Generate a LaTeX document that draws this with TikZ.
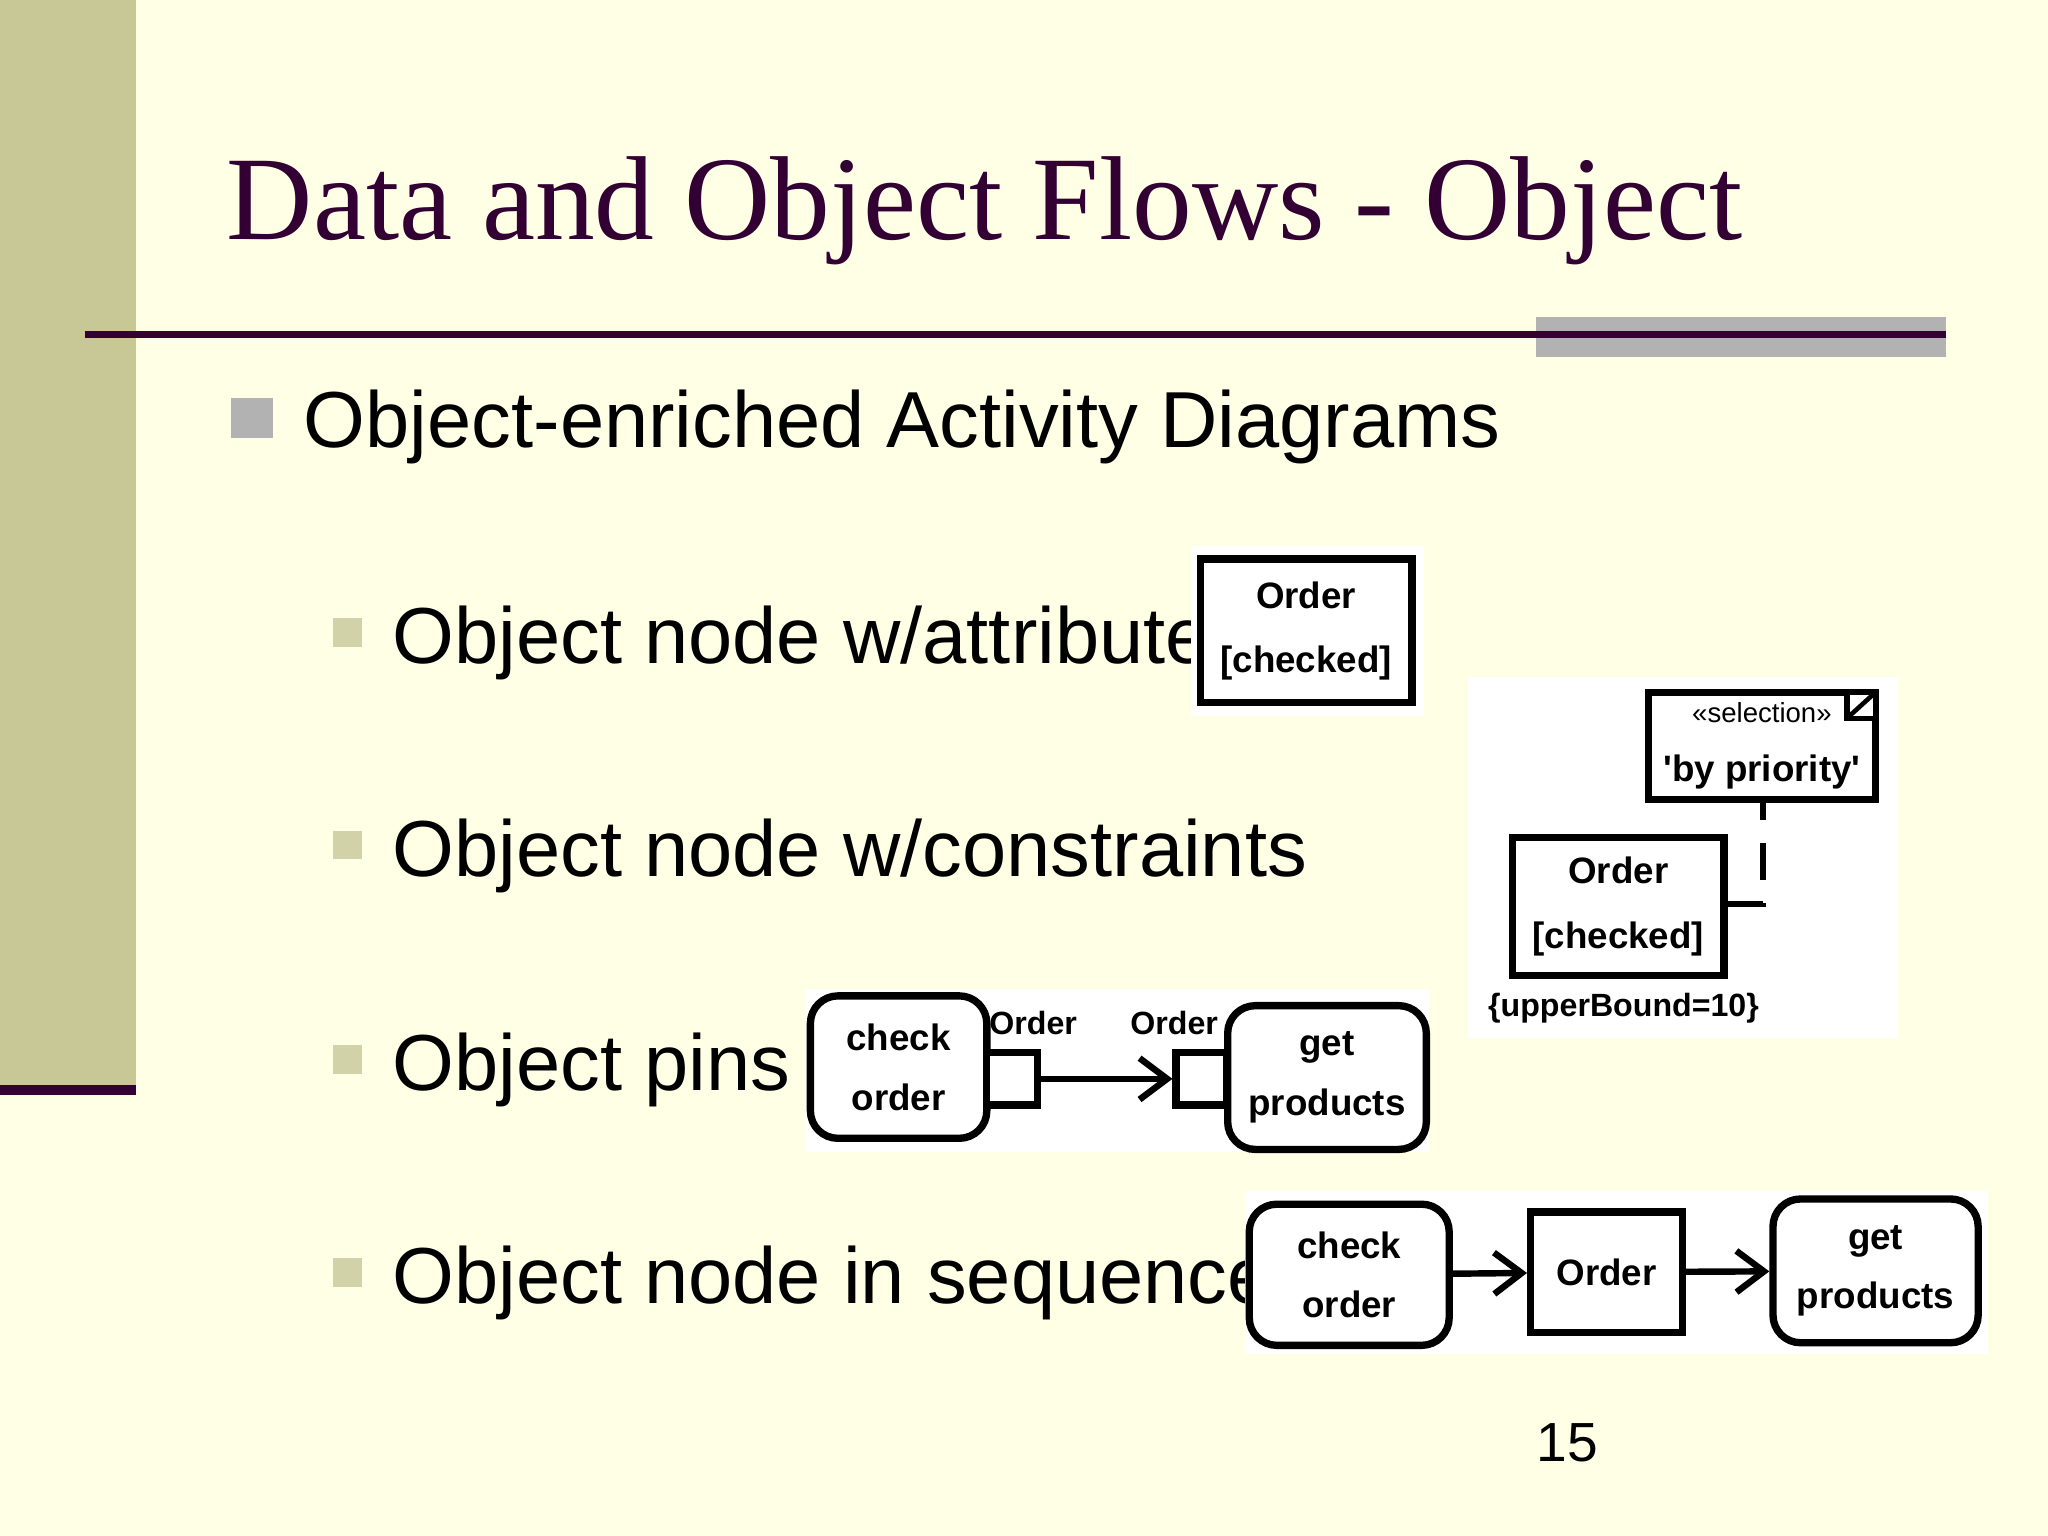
\documentclass[tikz,border=0pt]{standalone}
\usepackage{fontspec}
\setmainfont{Liberation Serif}
\newfontfamily\sans{Liberation Sans}
\usetikzlibrary{arrows.meta}
\definecolor{bg}{HTML}{FFFFE6}
\definecolor{bar}{HTML}{C8C896}
\definecolor{dpur}{HTML}{330033}
\definecolor{sub}{HTML}{D2D2A8}
\begin{document}
\begin{tikzpicture}[x=0.01cm,y=-0.01cm,
  box/.style={draw,line width=1.6pt,fill=white,inner sep=0pt,font=\sans\bfseries\fontsize{8}{10}\selectfont,align=center},
  rbox/.style={box,rounded corners=6pt},
  arr/.style={line width=1.4pt,-{Straight Barb[length=6pt,width=9pt]}},
  item/.style={anchor=base west,font=\sans\fontsize{17.3}{20}\selectfont},
  lab/.style={font=\sans\bfseries\fontsize{7}{8}\selectfont,inner sep=1pt}]
\fill[bg] (0,0) rectangle (1568,1176);
\useasboundingbox (0,0) rectangle (1568,1176);
\fill[bar] (0,0) rectangle (104,833);
\fill[dpur] (0,831) rectangle (104,838);
\fill[black!30] (1176,243) rectangle (1490,273);
\draw[dpur,line width=1.5pt] (65,256) -- (1490,256);
\node[anchor=base west,text=dpur,font=\fontsize{26}{30}\selectfont,inner sep=0] (title) at (173,183) {Data and Object Flows - Object};
\fill[black!30] (177,305) rectangle (209,335);
\node[item,inner sep=0] (b1) at (232,343) {Object-enriched Activity Diagrams};
\foreach \y/\t/\n in {508/Object node w\slash attribute/s1,671/Object node w\slash constraints/s2,835/Object pins/s3,998/Object node in sequence/s4}{
  \fill[sub] (255,\y-35) rectangle (277,\y-13);
  \node[item,inner sep=0] (\n) at (300,\y) {\t};
}
\node[font=\sans\fontsize{12}{14}\selectfont] (pg) at (1200,1105) {15};
% diagram 1
\fill[white] (912,418) rectangle (1090,548);
\node[box,minimum width=1.62cm,minimum height=1.1cm] (o1) at (1000,483) {Order\\[4pt][checked]};
% diagram 2
\fill[white] (1124,518) rectangle (1453,795);
\node[box,minimum width=1.74cm,minimum height=0.82cm] (sel) at (1349,571) {\fontsize{6}{7}\selectfont\mdseries«selection»\\[3pt]'by priority'};
\draw[line width=1.2pt,fill=white] (1414,530) rectangle (1436,550);
\draw[line width=1pt] (1414,550) -- (1436,530);
\node[box,minimum width=1.62cm,minimum height=1.06cm] (o2) at (1239,694) {Order\\[4pt][checked]};
\coordinate (c2) at (1350,692);
\draw[line width=1.4pt,dash pattern=on 8pt off 5pt] (o2.east |- c2) -- (c2) -- (c2 |- sel.south);
\node[lab] (ub) at (1243,772) {\{upperBound=10\}};
% diagram 3
\fill[white] (617,757) rectangle (1094,882);
\node[rbox,minimum width=1.35cm,minimum height=1.09cm] (co3) at (688,817) {check\\[3pt]order};
\node[box,minimum width=0.39cm,minimum height=0.4cm] (p1) at (775,826) {};
\node[box,minimum width=0.39cm,minimum height=0.4cm] (p2) at (920,826) {};
\node[rbox,minimum width=1.52cm,minimum height=1.1cm] (gp3) at (1016,825) {get\\[3pt]products};
\draw[arr] (p1) -- (p2);
\node[lab] (l1) at (791,783) {Order};
\node[lab] (l2) at (899,783) {Order};
% diagram 4
\fill[white] (953,912) rectangle (1522,1037);
\node[rbox,minimum width=1.53cm,minimum height=1.08cm] (co4) at (1033,976) {check\\[3pt]order};
\node[box,minimum width=1.16cm,minimum height=0.92cm] (o4) at (1230,974) {Order};
\node[rbox,minimum width=1.57cm,minimum height=1.1cm] (gp4) at (1436,973) {get\\[3pt]products};
\draw[arr] (co4) -- (o4);
\draw[arr] (o4) -- (gp4);
\end{tikzpicture}
\end{document}
